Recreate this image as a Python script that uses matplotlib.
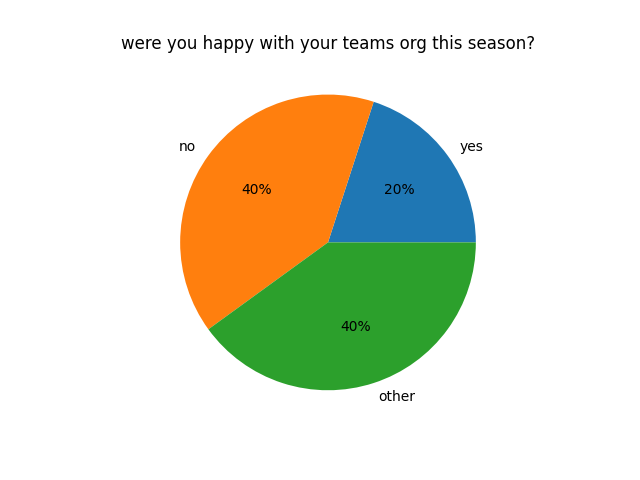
import matplotlib
matplotlib.use('Agg')
import matplotlib.pyplot as plt

# survey answers
labels = ['yes', 'no', 'other']
counts = [1, 2, 2]

fig, ax = plt.subplots(figsize=(6.4, 4.8), dpi=100)
ax.pie(counts, labels=labels, autopct='%1.0f%%')
ax.set_title('were you happy with your teams org this season?')

plt.savefig('out.png')
